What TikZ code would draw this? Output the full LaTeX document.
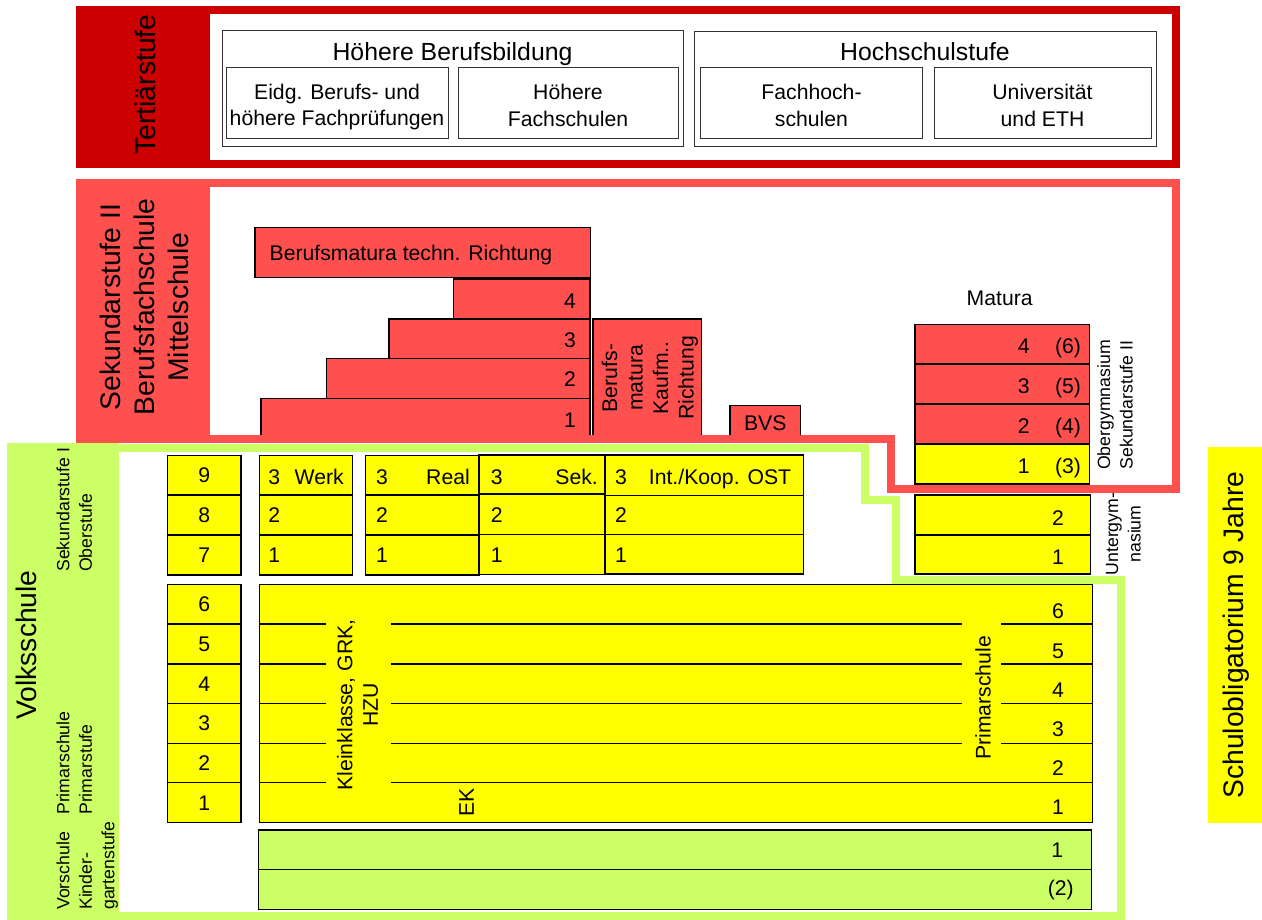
\documentclass[tikz,border=0pt]{standalone}
\usepackage{fontspec}
\setmainfont{Liberation Sans}
\definecolor{tertred}{HTML}{CC0000}
\definecolor{sekred}{HTML}{FF5050}
\definecolor{vsgreen}{HTML}{CCFF66}
\definecolor{vsyellow}{HTML}{FFFF00}
\newcommand{\bx}[7]{\node[#1, minimum width={(#4)-(#2)}, minimum height={(#5)-(#3)}] (#6) at ({((#2)+(#4))/2},{((#3)+(#5))/2}) {#7};}
\tikzset{
  basebox/.style={rectangle, inner sep=0pt, outer sep=0pt, line width=1.2pt, draw=black},
  tbox/.style={basebox, draw=black!80, line width=1pt, fill=white},
  redbox/.style={basebox, fill=sekred, font=\fontsize{21.2}{25.5}\selectfont},
  yelbox/.style={basebox, fill=vsyellow, font=\fontsize{21.2}{25.5}\selectfont},
  grnbox/.style={basebox, fill=vsgreen, font=\fontsize{21.2}{25.5}\selectfont},
  txt/.style={inner sep=0pt, font=\fontsize{21.2}{25.5}\selectfont},
  ttxt/.style={inner sep=0pt, align=center, font=\fontsize{21.2}{26.5}\selectfont},
  ttl/.style={inner sep=0pt, font=\fontsize{24.8}{30}\selectfont},
  big/.style={inner sep=0pt, font=\fontsize{28.3}{34}\selectfont},
  sml/.style={inner sep=0pt, font=\fontsize{17.7}{22.5}\selectfont},
  stageframe/.style={line width=8pt, line join=miter},
  rowline/.style={line width=1.2pt, draw=black},
}
\begin{document}
\begin{tikzpicture}[x=1pt,y=-1pt]
\useasboundingbox (0,0) rectangle (1262,920);
\fill[white] (0,0) rectangle (1262,920);

% ---------- Volksschule frame
\fill[vsgreen] (7,443) rectangle (119,920);
\draw[stageframe, draw=vsgreen] (11,447.5) -- (864.5,447.5) -- (864.5,499.5) -- (895.5,499.5) -- (895.5,579.5) -- (1120.5,579.5) -- (1120.5,916) -- (11,916) -- cycle;

% ---------- Sekundarstufe II band
\fill[sekred] (76,179) rectangle (210,442);

% ---------- Tertiaerstufe
\fill[tertred] (76,6) rectangle (1180,168);
\fill[white] (210,14) rectangle (1172,160);
\node[big, rotate=90, anchor=base] (tert) at (155.5,84.5) {Tertiärstufe};

\bx{tbox}{222}{31}{683}{147}{hbb}{}
\node[ttl, anchor=base] (hbbt) at (452.5,61) {Höhere Berufsbildung};
\bx{tbox}{226}{68}{448}{139}{eidg}{}
\node[ttxt] (eidgt) at (337,107.2) {Eidg. Berufs- und\\höhere Fachprüfungen};
\bx{tbox}{458}{68}{678}{139}{hfs}{}
\node[ttxt] (hfst) at (568,105.5) {Höhere\\Fachschulen};
\bx{tbox}{694.6}{32}{1156}{147}{hs}{}
\node[ttl, anchor=base] (hst) at (925,61) {Hochschulstufe};
\bx{tbox}{700.5}{68}{922.5}{139}{fh}{}
\node[ttxt] (fht) at (811.5,105.5) {Fachhoch-\\schulen};
\bx{tbox}{934}{68}{1151}{139}{uni}{}
\node[ttxt] (unit) at (1042.5,105.5) {Universität\\und ETH};

% ---------- Sekundarstufe II
\node[big, rotate=90, align=center] (sek2) at (144,307) {Sekundarstufe II\\Berufsfachschule\\Mittelschule};

\bx{redbox}{255}{227.3}{590.5}{277.7}{bmt}{}
\node[txt, anchor=base west] (bmtt) at (269.5,260.6) {Berufsmatura techn. Richtung};
\bx{redbox}{453.6}{279}{590}{319}{bm4}{}
\bx{redbox}{389}{319}{590}{358.3}{bm3}{}
\bx{redbox}{326.7}{358.3}{590}{398.3}{bm2}{}
\bx{redbox}{261}{398.3}{590}{440}{bm1}{}
\node[txt, anchor=base] (bm4t) at (570,308.3) {4};
\node[txt, anchor=base] (bm3t) at (570,347) {3};
\node[txt, anchor=base] (bm2t) at (570,386.6) {2};
\node[txt, anchor=base] (bm1t) at (570,427.3) {1};

\bx{redbox}{593}{319}{701.8}{440}{bmk}{}
\node[txt, rotate=90, align=center] (bmkt) at (650,378) {Berufs-\\matura\\Kaufm..\\Richtung};
\bx{redbox}{730}{405.7}{800.5}{440}{bvs}{BVS}

\node[txt, anchor=base] (mat) at (999.7,305.3) {Matura};
\bx{redbox}{915}{324.7}{1089.8}{364}{og4}{}
\bx{redbox}{915}{364}{1089.8}{404}{og3}{}
\bx{redbox}{915}{404}{1089.8}{444}{og2}{}
\bx{yelbox}{915}{444}{1089.8}{484}{og1}{}
\node[txt, anchor=base] (og4a) at (1023.7,353.9) {4};
\node[txt, anchor=base] (og4b) at (1068,353.9) {(6)};
\node[txt, anchor=base] (og3a) at (1023.7,393.6) {3};
\node[txt, anchor=base] (og3b) at (1068,393.6) {(5)};
\node[txt, anchor=base] (og2a) at (1023.7,433.6) {2};
\node[txt, anchor=base] (og2b) at (1068,433.6) {(4)};
\node[txt, anchor=base] (og1a) at (1023.7,473.6) {1};
\node[txt, anchor=base] (og1b) at (1068,473.6) {(3)};
\node[sml, rotate=90, align=center] (ogt) at (1115,405) {Obergymnasium\\Sekundarstufe II};

% Sek II frame outline (on top of the boxes)
\draw[stageframe, draw=sekred] (80,183) -- (1176,183) -- (1176,489) -- (891,489) -- (891,438.5) -- (80,438.5) -- cycle;

% ---------- Untergymnasium
\bx{yelbox}{915}{495}{1090.7}{535}{ug2}{}
\bx{yelbox}{915}{535}{1090.7}{574}{ug1}{}
\node[txt, anchor=base] (ug2t) at (1058,525.1) {2};
\node[txt, anchor=base] (ug1t) at (1058,564.6) {1};
\node[sml, rotate=90, align=center] (ugt) at (1123.4,534) {Untergym-\\nasium};

% ---------- Volksschule labels
\node[big, rotate=90, anchor=base] (vs) at (36.7,645) {Volksschule};
\node[sml, rotate=90, align=left, anchor=north west] (sk1) at (56.4,572) {Sekundarstufe I\\Oberstufe};
\node[sml, rotate=90, align=left, anchor=north west] (prs) at (56.4,815) {Primarschule\\Primarstufe};
\node[sml, rotate=90, align=left, anchor=north west] (vor) at (56.4,910) {Vorschule\\Kinder-\\gartenstufe};

% ---------- year column
\bx{yelbox}{167.3}{455.7}{241}{495}{n9}{9}
\bx{yelbox}{167.3}{495}{241}{535}{n8}{8}
\bx{yelbox}{167.3}{535}{241}{575}{n7}{7}
\bx{yelbox}{167.3}{584.3}{241}{624}{n6}{6}
\bx{yelbox}{167.3}{624}{241}{664}{n5}{5}
\bx{yelbox}{167.3}{664}{241}{703.5}{n4}{4}
\bx{yelbox}{167.3}{703.5}{241}{743.3}{n3}{3}
\bx{yelbox}{167.3}{743.3}{241}{782.8}{n2}{2}
\bx{yelbox}{167.3}{782.8}{241}{822.7}{n1}{1}

% ---------- Oberstufe
\bx{yelbox}{259.3}{455.7}{352.3}{495}{w3}{}
\bx{yelbox}{259.3}{495}{352.3}{535}{w2}{}
\bx{yelbox}{259.3}{535}{352.3}{575}{w1}{}
\node[txt, anchor=base] (w3n) at (274.3,484) {3};
\node[txt, anchor=base east] (w3t) at (344,484) {Werk};
\node[txt, anchor=base] (w2n) at (274.3,522.6) {2};
\node[txt, anchor=base] (w1n) at (274.3,562.6) {1};

\bx{yelbox}{365.7}{455.7}{479}{495}{r3}{}
\bx{yelbox}{365.7}{495}{479}{535}{r2}{}
\bx{yelbox}{365.7}{535}{479}{575}{r1}{}
\node[txt, anchor=base] (r3n) at (382,484) {3};
\node[txt, anchor=base east] (r3t) at (470,484) {Real};
\node[txt, anchor=base] (r2n) at (382,522.6) {2};
\node[txt, anchor=base] (r1n) at (382,562.6) {1};

\bx{yelbox}{479}{455}{604.3}{494}{s3}{}
\bx{yelbox}{479}{494}{604.3}{534.5}{s2}{}
\bx{yelbox}{479}{534.5}{604.3}{574.3}{s1}{}
\node[txt, anchor=base] (s3n) at (496.7,484) {3};
\node[txt, anchor=base east] (s3t) at (598,484) {Sek.};
\node[txt, anchor=base] (s2n) at (496.7,522.6) {2};
\node[txt, anchor=base] (s1n) at (496.7,562.6) {1};

\bx{yelbox}{605.7}{455}{803.3}{495.3}{k3}{}
\bx{yelbox}{605.7}{495.3}{803.3}{534.7}{k2}{}
\bx{yelbox}{605.7}{534.7}{803.3}{574}{k1}{}
\node[txt, anchor=base] (k3n) at (621,484) {3};
\node[txt, anchor=base] (k3t) at (720,484) {Int./Koop. OST};
\node[txt, anchor=base] (k2n) at (621,522.6) {2};
\node[txt, anchor=base] (k1n) at (621,562.6) {1};

% ---------- Primarstufe
\bx{yelbox}{259.3}{584.3}{1092.3}{822.7}{prim}{}
\foreach \yy in {624,664,703.5,743.3}{
  \draw[rowline] (259.3,\yy) -- (325.7,\yy);
  \draw[rowline] (391,\yy) -- (961.7,\yy);
  \draw[rowline] (1001,\yy) -- (1092.3,\yy);
}
\draw[rowline] (259.3,782.8) -- (325.7,782.8);
\draw[rowline] (391,782.8) -- (1092.3,782.8);
\node[txt, rotate=90, align=center] (kk) at (357.6,705) {Kleinklasse, GRK,\\HZU};
\node[txt, rotate=90] (psch) at (983,698) {Primarschule};
\node[txt, rotate=90] (ek) at (466.7,802) {EK};
\node[txt, anchor=base] (p6) at (1058,618.6) {6};
\node[txt, anchor=base] (p5) at (1058,658.6) {5};
\node[txt, anchor=base] (p4) at (1058,697.6) {4};
\node[txt, anchor=base] (p3) at (1058,736.6) {3};
\node[txt, anchor=base] (p2) at (1058,775.6) {2};
\node[txt, anchor=base] (p1) at (1058,814.6) {1};

% ---------- Kindergarten
\bx{grnbox}{258.5}{830}{1091.7}{869.5}{kg1}{}
\bx{grnbox}{258.5}{869.5}{1091.7}{909.3}{kg2}{}
\node[txt, anchor=base] (kg1t) at (1057.3,857.3) {1};
\node[txt, anchor=base] (kg2t) at (1060.7,895) {(2)};

% ---------- Schulobligatorium
\fill[vsyellow] (1208.3,446.7) rectangle (1262,823.3);
\node[big, rotate=90] (sob) at (1236,635) {Schulobligatorium 9 Jahre};
\end{tikzpicture}
\end{document}
